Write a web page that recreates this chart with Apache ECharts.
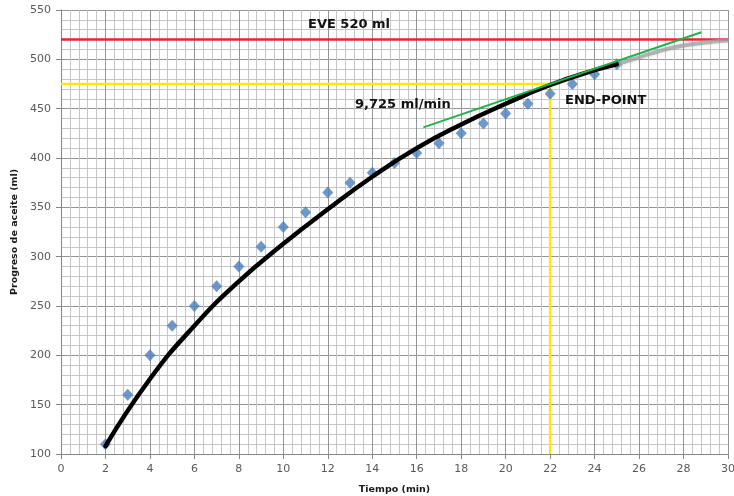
<!DOCTYPE html>
<html>
<head>
<meta charset="utf-8">
<script src="https://cdn.jsdelivr.net/npm/echarts@6/dist/echarts.min.js"></script>
<style>
  html, body { margin: 0; padding: 0; background: #ffffff; }
  #chart { width: 734px; height: 496px; }
</style>
</head>
<body>
<div id="chart"></div>
<script>
// Measured oil progress (ml) per minute
const measuredTimes = [2, 3, 4, 5, 6, 7, 8, 9, 10, 11, 12, 13, 14, 15, 16, 17, 18, 19, 20, 21, 22, 23, 24, 25];
const measuredOil   = [110, 160, 200, 230, 250, 270, 290, 310, 330, 345, 365, 375, 385, 395, 405, 415, 425, 435, 445, 455, 465, 475, 485, 495];

// Fitted trend curve (black) and its extension (grey)
const fitTimes = [2, 4, 6, 8, 10, 12, 14, 16, 18, 20, 22, 24, 25];
const fitOil   = [108, 176, 230, 275, 313, 348, 381, 410, 434, 455, 474, 489, 495];
const extTimes = [25, 26, 27, 28, 29, 30];
const extOil   = [495, 502, 509, 514, 517, 519];

// Tangent at the end point (green)
const tangentTimes = [16.3, 28.8];
const tangentOil   = [431, 527.5];

// Reference levels
const eveLevel = 520;
const endPointTime = 22;
const endPointOil = 475;

const xMin = 0, xMax = 30, xStep = 2;
const yMin = 100, yMax = 550, yStep = 50;

const pairs = (xs, ys) => xs.map((x, i) => [x, ys[i]]);

const chart = echarts.init(document.getElementById('chart'), null, { renderer: 'canvas' });

const tickFont = { color: '#595959', fontFamily: 'DejaVu Sans', fontSize: 11 };
const titleFont = { color: '#1a1a1a', fontFamily: 'DejaVu Sans', fontSize: 9.5, fontWeight: 'bold' };
const noteFont = 'bold 13px "DejaVu Sans"';

chart.setOption({
  animation: false,
  backgroundColor: '#ffffff',
  grid: { left: 61, right: 6, top: 10, bottom: 42, containLabel: false, outerBoundsMode: 'none' },
  xAxis: {
    type: 'value', min: xMin, max: xMax, interval: xStep,
    name: 'Tiempo (min)', nameLocation: 'middle', nameGap: 31,
    nameTextStyle: titleFont,
    axisLine: { show: true, onZero: false, lineStyle: { color: '#868686', width: 1 } },
    axisTick: { show: true, inside: false, length: 5, lineStyle: { color: '#868686' } },
    axisLabel: Object.assign({ margin: 10 }, tickFont),
    splitLine: { show: true, lineStyle: { color: '#959595', width: 1 } },
    minorTick: { show: false, splitNumber: 5 },
    minorSplitLine: { show: true, lineStyle: { color: '#c6c6c6', width: 1 } }
  },
  yAxis: {
    type: 'value', min: yMin, max: yMax, interval: yStep,
    name: 'Progreso de aceite (ml)', nameLocation: 'middle', nameGap: 38, nameRotate: 90,
    nameTextStyle: titleFont,
    axisLine: { show: true, onZero: false, lineStyle: { color: '#868686', width: 1 } },
    axisTick: { show: true, inside: false, length: 5, lineStyle: { color: '#868686' } },
    axisLabel: Object.assign({ margin: 10 }, tickFont),
    splitLine: { show: true, lineStyle: { color: '#959595', width: 1 } },
    minorTick: { show: false, splitNumber: 5 },
    minorSplitLine: { show: true, lineStyle: { color: '#c6c6c6', width: 1 } }
  },
  series: [
    {
      name: 'end-point guide', type: 'line', z: 2,
      data: [[xMin, endPointOil], [endPointTime, endPointOil], [endPointTime, yMin]],
      symbol: 'none', lineStyle: { color: '#fbeb00', width: 2.5 }
    },
    {
      name: 'EVE', type: 'line', z: 3,
      data: [[xMin, eveLevel], [xMax, eveLevel]],
      symbol: 'none', lineStyle: { color: '#e8252b', width: 2.5 }
    },
    {
      name: 'medido', type: 'scatter', z: 4,
      data: pairs(measuredTimes, measuredOil),
      symbol: 'diamond', symbolSize: [11, 12],
      itemStyle: { color: '#4a7ebb' }
    },
    {
      name: 'extension', type: 'line', z: 5, smooth: true,
      data: pairs(extTimes, extOil),
      symbol: 'none',
      lineStyle: { color: 'rgba(160,160,160,0.7)', width: 4, shadowBlur: 3, shadowColor: 'rgba(160,160,160,0.6)' }
    },
    {
      name: 'ajuste', type: 'line', z: 6, smooth: true,
      data: pairs(fitTimes, fitOil),
      symbol: 'none', lineStyle: { color: '#000000', width: 4.5, cap: 'round' }
    },
    {
      name: 'tangente', type: 'line', z: 7,
      data: pairs(tangentTimes, tangentOil),
      symbol: 'none', lineStyle: { color: '#1fb24a', width: 2 }
    }
  ],
  graphic: [
    { type: 'text', z: 100, style: { text: 'EVE 520 ml', x: 308, y: 25, textVerticalAlign: 'middle', font: noteFont, fill: '#111111' } },
    { type: 'text', z: 100, style: { text: '9,725 ml/min', x: 355, y: 105, textVerticalAlign: 'middle', font: noteFont, fill: '#111111' } },
    { type: 'text', z: 100, style: { text: 'END-POINT', x: 565, y: 101, textVerticalAlign: 'middle', font: noteFont, fill: '#111111' } }
  ]
});
</script>
</body>
</html>
